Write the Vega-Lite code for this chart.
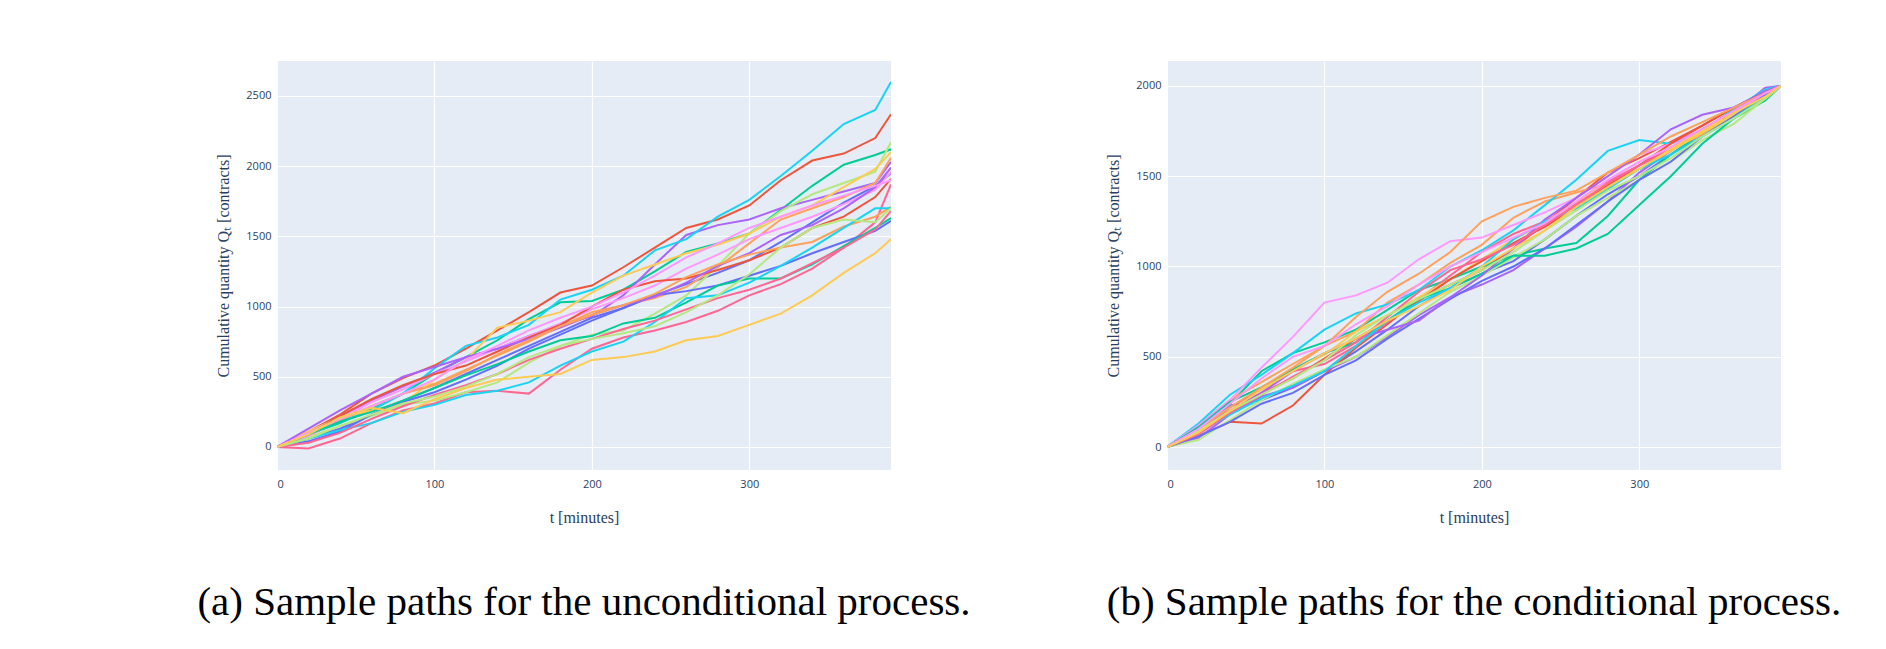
{
  "$schema": "https://vega.github.io/schema/vega-lite/v6.json",
  "background": "white",
  "padding": {"left": 197, "top": 61, "right": 5, "bottom": 5},
  "config": {
    "view": {"fill": "#E5ECF6", "stroke": null},
    "axis": {
      "grid": true, "gridColor": "white", "gridWidth": 1.2, "domain": false, "ticks": false,
      "labelFont": "Open Sans", "labelFontSize": 11, "labelColor": "#2a3f5f", "format": "d",
      "titleFont": "Liberation Serif", "titleFontSize": 16, "titleFontWeight": "normal", "titleColor": "#2a3f5f"
    },
    "title": {"font": "Liberation Serif", "fontSize": 41, "fontWeight": "normal", "color": "black", "orient": "bottom", "offset": 58}
  },
  "spacing": 134,
  "datasets": {
    "uncond": [
      {"s":"a","t":[0,20,40,60,80,100,120,140,160,180,200,220,240,260,280,300,320,340,360,380,390],"q":[0,60,130,230,330,420,520,620,720,820,920,990,1080,1160,1240,1330,1460,1600,1740,1860,1950]},
      {"s":"b","t":[0,20,40,60,80,100,120,140,160,180,200,220,240,260,280,300,320,340,360,380,390],"q":[0,110,230,380,490,580,700,830,960,1100,1150,1280,1420,1560,1620,1720,1900,2040,2090,2200,2370]},
      {"s":"c","t":[0,20,40,60,80,100,120,140,160,180,200,220,240,260,280,300,320,340,360,380,390],"q":[0,90,170,270,380,520,640,760,910,1030,1040,1120,1250,1390,1450,1520,1690,1860,2010,2080,2120]},
      {"s":"d","t":[0,20,40,60,80,100,120,140,160,180,200,220,240,260,280,300,320,340,360,380,390],"q":[0,100,220,330,430,530,640,700,790,870,930,1080,1300,1510,1580,1620,1700,1760,1820,1880,2030]},
      {"s":"e","t":[0,20,40,60,80,100,120,140,160,180,200,220,240,260,280,300,320,340,360,380,390],"q":[0,80,190,290,380,450,550,650,750,860,960,1010,1060,1140,1280,1450,1620,1700,1780,1880,2060]},
      {"s":"f","t":[0,20,40,60,80,100,120,140,160,180,200,220,240,260,280,300,320,340,360,380,390],"q":[0,90,180,260,380,560,720,780,870,1050,1120,1220,1400,1480,1640,1760,1930,2110,2300,2400,2600]},
      {"s":"g","t":[0,20,40,60,80,100,120,140,160,180,200,220,240,260,280,300,320,340,360,380,390],"q":[0,-10,60,170,260,310,390,400,380,550,700,780,830,890,970,1080,1160,1270,1420,1600,1870]},
      {"s":"h","t":[0,20,40,60,80,100,120,140,160,180,200,220,240,260,280,300,320,340,360,380,390],"q":[0,70,150,220,300,330,390,460,600,720,800,830,950,1080,1290,1520,1680,1800,1880,1960,2170]},
      {"s":"i","t":[0,20,40,60,80,100,120,140,160,180,200,220,240,260,280,300,320,340,360,380,390],"q":[0,80,200,320,410,520,610,700,790,880,980,1060,1150,1270,1370,1480,1560,1640,1730,1830,1960]},
      {"s":"j","t":[0,20,40,60,80,100,120,140,160,180,200,220,240,260,280,300,320,340,360,380,390],"q":[0,110,210,260,310,480,620,850,900,960,1100,1220,1300,1380,1440,1520,1640,1720,1850,1980,2100]},
      {"s":"k","t":[0,20,40,60,80,100,120,140,160,180,200,220,240,260,280,300,320,340,360,380,390],"q":[0,40,110,230,320,390,480,580,700,800,900,990,1080,1110,1150,1220,1290,1380,1460,1540,1610]},
      {"s":"l","t":[0,20,40,60,80,100,120,140,160,180,200,220,240,260,280,300,320,340,360,380,390],"q":[0,90,220,340,440,520,580,680,780,870,1000,1120,1180,1200,1260,1330,1420,1560,1640,1780,1910]},
      {"s":"m","t":[0,20,40,60,80,100,120,140,160,180,200,220,240,260,280,300,320,340,360,380,390],"q":[0,90,180,250,330,420,510,590,680,760,790,880,920,1030,1150,1200,1200,1300,1430,1560,1630]},
      {"s":"n","t":[0,20,40,60,80,100,120,140,160,180,200,220,240,260,280,300,320,340,360,380,390],"q":[0,130,260,380,500,570,640,700,770,850,940,1010,1070,1170,1290,1380,1510,1580,1700,1850,1990]},
      {"s":"o","t":[0,20,40,60,80,100,120,140,160,180,200,220,240,260,280,300,320,340,360,380,390],"q":[0,100,200,290,380,440,540,660,760,860,940,1010,1090,1210,1300,1370,1420,1460,1570,1640,1710]},
      {"s":"p","t":[0,20,40,60,80,100,120,140,160,180,200,220,240,260,280,300,320,340,360,380,390],"q":[0,60,120,170,250,300,370,400,460,580,680,750,890,1060,1080,1170,1290,1420,1560,1700,1700]},
      {"s":"q","t":[0,20,40,60,80,100,120,140,160,180,200,220,240,260,280,300,320,340,360,380,390],"q":[0,30,100,200,290,370,440,520,620,700,770,840,900,980,1060,1120,1200,1310,1420,1550,1680]},
      {"s":"r","t":[0,20,40,60,80,100,120,140,160,180,200,220,240,260,280,300,320,340,360,380,390],"q":[0,60,150,230,310,360,430,520,640,720,770,810,860,960,1080,1230,1420,1560,1620,1600,1700]},
      {"s":"s","t":[0,20,40,60,80,100,120,140,160,180,200,220,240,260,280,300,320,340,360,380,390],"q":[0,100,200,290,380,480,620,720,830,920,1000,1100,1220,1350,1450,1560,1640,1720,1790,1860,1900]},
      {"s":"t","t":[0,20,40,60,80,100,120,140,160,180,200,220,240,260,280,300,320,340,360,380,390],"q":[0,90,210,280,240,340,420,480,500,520,620,640,680,760,790,870,950,1080,1240,1380,1480]}
    ],
    "cond": [
      {"s":"a","t":[0,20,40,60,80,100,120,140,160,180,200,220,240,260,280,300,320,340,360,380,390],"q":[0,110,230,260,330,420,530,650,780,880,960,1030,1150,1280,1400,1500,1620,1740,1850,1980,2000]},
      {"s":"b","t":[0,20,40,60,80,100,120,140,160,180,200,220,240,260,280,300,320,340,360,380,390],"q":[0,60,140,130,230,400,550,680,820,900,980,1100,1240,1380,1520,1600,1690,1780,1880,1960,2000]},
      {"s":"c","t":[0,20,40,60,80,100,120,140,160,180,200,220,240,260,280,300,320,340,360,380,390],"q":[0,90,240,420,520,580,650,760,870,930,1000,1060,1100,1130,1280,1480,1620,1740,1820,1920,2000]},
      {"s":"d","t":[0,20,40,60,80,100,120,140,160,180,200,220,240,260,280,300,320,340,360,380,390],"q":[0,50,180,280,330,420,500,610,730,830,900,980,1100,1220,1360,1520,1640,1760,1850,1990,2000]},
      {"s":"e","t":[0,20,40,60,80,100,120,140,160,180,200,220,240,260,280,300,320,340,360,380,390],"q":[0,120,260,360,460,560,640,800,900,1020,1120,1270,1360,1410,1460,1560,1650,1730,1830,1930,2000]},
      {"s":"f","t":[0,20,40,60,80,100,120,140,160,180,200,220,240,260,280,300,320,340,360,380,390],"q":[0,130,290,400,520,650,740,790,870,1000,1090,1200,1340,1480,1640,1700,1680,1750,1870,1980,2000]},
      {"s":"g","t":[0,20,40,60,80,100,120,140,160,180,200,220,240,260,280,300,320,340,360,380,390],"q":[0,80,220,320,420,460,560,690,820,950,1080,1180,1250,1350,1470,1560,1660,1750,1840,1950,2000]},
      {"s":"h","t":[0,20,40,60,80,100,120,140,160,180,200,220,240,260,280,300,320,340,360,380,390],"q":[0,40,150,260,350,430,500,620,740,860,950,1050,1150,1280,1380,1480,1580,1700,1790,1930,2000]},
      {"s":"i","t":[0,20,40,60,80,100,120,140,160,180,200,220,240,260,280,300,320,340,360,380,390],"q":[0,120,260,440,610,800,840,910,1040,1140,1160,1230,1300,1380,1500,1620,1680,1760,1860,1970,2000]},
      {"s":"j","t":[0,20,40,60,80,100,120,140,160,180,200,220,240,260,280,300,320,340,360,380,390],"q":[0,90,200,300,430,510,640,730,830,930,1040,1150,1240,1360,1460,1540,1640,1740,1840,1950,2000]},
      {"s":"k","t":[0,20,40,60,80,100,120,140,160,180,200,220,240,260,280,300,320,340,360,380,390],"q":[0,60,140,240,300,400,480,600,710,820,920,1000,1100,1230,1360,1480,1580,1720,1830,1950,2000]},
      {"s":"l","t":[0,20,40,60,80,100,120,140,160,180,200,220,240,260,280,300,320,340,360,380,390],"q":[0,90,200,300,380,490,600,700,810,930,1030,1130,1220,1330,1450,1560,1680,1780,1880,1970,2000]},
      {"s":"m","t":[0,20,40,60,80,100,120,140,160,180,200,220,240,260,280,300,320,340,360,380,390],"q":[0,110,250,330,430,520,580,700,820,880,960,1060,1060,1100,1180,1340,1500,1680,1820,1940,2000]},
      {"s":"n","t":[0,20,40,60,80,100,120,140,160,180,200,220,240,260,280,300,320,340,360,380,390],"q":[0,100,200,300,420,520,600,650,700,830,950,1100,1260,1380,1500,1620,1760,1840,1880,1970,2000]},
      {"s":"o","t":[0,20,40,60,80,100,120,140,160,180,200,220,240,260,280,300,320,340,360,380,390],"q":[0,100,220,330,440,560,720,860,960,1080,1250,1330,1380,1420,1520,1620,1720,1800,1880,1960,2000]},
      {"s":"p","t":[0,20,40,60,80,100,120,140,160,180,200,220,240,260,280,300,320,340,360,380,390],"q":[0,80,180,270,340,420,560,700,800,880,1000,1150,1250,1320,1430,1540,1620,1720,1820,1940,2000]},
      {"s":"q","t":[0,20,40,60,80,100,120,140,160,180,200,220,240,260,280,300,320,340,360,380,390],"q":[0,70,190,290,390,480,580,720,860,980,1040,1120,1230,1340,1460,1560,1650,1760,1860,1960,2000]},
      {"s":"r","t":[0,20,40,60,80,100,120,140,160,180,200,220,240,260,280,300,320,340,360,380,390],"q":[0,90,200,290,380,480,620,730,820,900,980,1080,1200,1310,1420,1500,1600,1720,1820,1930,2000]},
      {"s":"s","t":[0,20,40,60,80,100,120,140,160,180,200,220,240,260,280,300,320,340,360,380,390],"q":[0,100,240,380,500,560,680,780,900,1000,1080,1160,1240,1360,1480,1580,1660,1760,1860,1960,2000]},
      {"s":"t","t":[0,20,40,60,80,100,120,140,160,180,200,220,240,260,280,300,320,340,360,380,390],"q":[0,80,200,320,420,520,600,700,780,870,1000,1100,1200,1330,1440,1540,1650,1750,1850,1940,2000]}
    ]
  },
  "hconcat": [
    {
      "title": "(a) Sample paths for the unconditional process.",
      "width": 614, "height": 409,
      "data": {"name": "uncond"},
      "transform": [{"flatten": ["t", "q"]}],
      "mark": {"type": "line", "strokeWidth": 2, "clip": true},
      "encoding": {
        "x": {"field": "t", "type": "quantitative", "scale": {"domain": [0, 390], "nice": false}, "axis": {"values": [0, 100, 200, 300], "title": "t [minutes]", "titlePadding": 20, "labelPadding": 8}},
        "y": {"field": "q", "type": "quantitative", "scale": {"domain": [-164, 2749], "nice": false, "zero": false}, "axis": {"values": [0, 500, 1000, 1500, 2000, 2500], "title": "Cumulative quantity Qₜ [contracts]", "titlePadding": 14, "labelPadding": 6}},
        "color": {"field": "s", "type": "nominal", "legend": null, "scale": {"domain": ["a","b","c","d","e","f","g","h","i","j","k","l","m","n","o","p","q","r","s","t"], "range": ["#636efa","#EF553B","#00cc96","#ab63fa","#FFA15A","#19d3f3","#FF6692","#B6E880","#FF97FF","#FECB52","#636efa","#EF553B","#00cc96","#ab63fa","#FFA15A","#19d3f3","#FF6692","#B6E880","#FF97FF","#FECB52"]}}
      }
    },
    {
      "title": "(b) Sample paths for the conditional process.",
      "width": 614, "height": 409,
      "data": {"name": "cond"},
      "transform": [{"flatten": ["t", "q"]}],
      "mark": {"type": "line", "strokeWidth": 2, "clip": true},
      "encoding": {
        "x": {"field": "t", "type": "quantitative", "scale": {"domain": [0, 390], "nice": false}, "axis": {"values": [0, 100, 200, 300], "title": "t [minutes]", "titlePadding": 20, "labelPadding": 8}},
        "y": {"field": "q", "type": "quantitative", "scale": {"domain": [-127, 2138], "nice": false, "zero": false}, "axis": {"values": [0, 500, 1000, 1500, 2000], "title": "Cumulative quantity Qₜ [contracts]", "titlePadding": 14, "labelPadding": 6}},
        "color": {"field": "s", "type": "nominal", "legend": null, "scale": {"domain": ["a","b","c","d","e","f","g","h","i","j","k","l","m","n","o","p","q","r","s","t"], "range": ["#636efa","#EF553B","#00cc96","#ab63fa","#FFA15A","#19d3f3","#FF6692","#B6E880","#FF97FF","#FECB52","#636efa","#EF553B","#00cc96","#ab63fa","#FFA15A","#19d3f3","#FF6692","#B6E880","#FF97FF","#FECB52"]}}
      }
    }
  ]
}
